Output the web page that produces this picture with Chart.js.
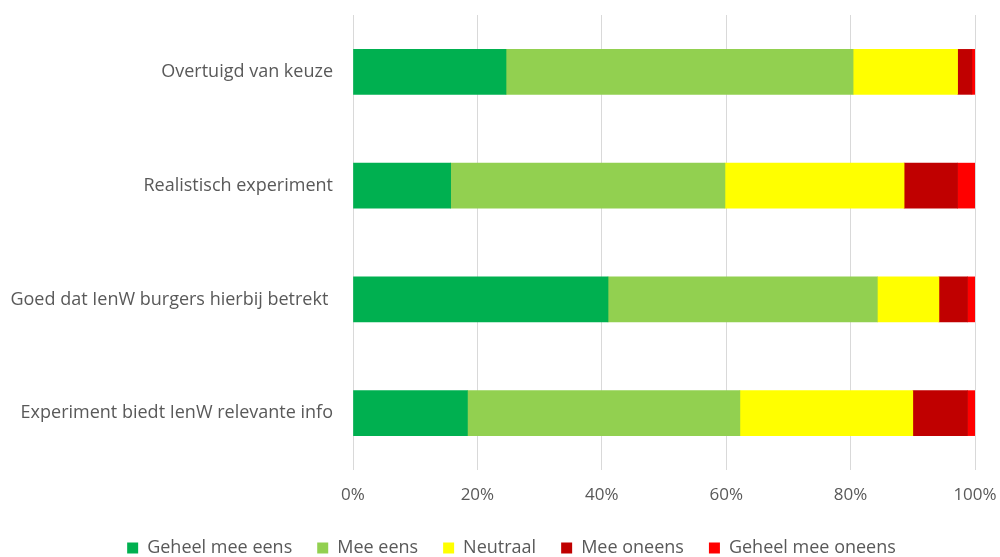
<!DOCTYPE html>
<html>
<head>
<meta charset="utf-8">
<script src="https://cdn.jsdelivr.net/npm/chart.js@4/dist/chart.umd.min.js"></script>
<style>
  html, body { margin: 0; padding: 0; background: #fff; }
  #wrap { width: 1000px; height: 557px; position: relative; }
</style>
</head>
<body>
<div id="wrap"><canvas id="chart"></canvas></div>
<script>
const categories = [
  "Overtuigd van keuze",
  "Realistisch experiment",
  "Goed dat IenW burgers hierbij betrekt ",
  "Experiment biedt IenW relevante info",
];

const seriesNames = ["Geheel mee eens", "Mee eens", "Neutraal", "Mee oneens", "Geheel mee oneens"];
const seriesColors = ["#00B050", "#92D050", "#FFFF00", "#C00000", "#FF0000"];

// percentages per category, in the order of categories
const geheelMeeEens = [24.6, 15.7, 41.0, 18.4];
const meeEens = [55.8, 44.1, 43.3, 43.8];
const neutraal = [16.8, 28.8, 9.9, 27.8];
const meeOneens = [2.3, 8.6, 4.6, 8.8];
const geheelMeeOneens = [0.5, 2.8, 1.2, 1.2];

const xTicks = [0, 20, 40, 60, 80, 100];

const seriesValues = [geheelMeeEens, meeEens, neutraal, meeOneens, geheelMeeOneens];
const TEXT = "#595959";
const FONT = "'Open Sans', 'Liberation Sans', sans-serif";

new Chart(document.getElementById("chart"), {
  type: "bar",
  data: {
    labels: categories,
    datasets: seriesNames.map((name, i) => ({
      label: name,
      data: seriesValues[i],
      backgroundColor: seriesColors[i],
      borderWidth: 0,
      barThickness: 45,
    })),
  },
  plugins: [
    {
      // the original legend sits a bit right of the page centre
      id: "legendShift",
      afterLayout: (chart) => {
        chart.legend.left += 24;
        chart.legend.right += 24;
      },
    },
  ],
  options: {
    indexAxis: "y",
    responsive: true,
    maintainAspectRatio: false,
    animation: false,
    // negative bottom padding pushes the legend down to where the original sits
    layout: { padding: { top: 15, right: 25, bottom: -10, left: 0 } },
    plugins: {
      tooltip: { enabled: false },
      legend: {
        position: "bottom",
        labels: {
          color: TEXT,
          font: { family: FONT, size: 18 },
          boxWidth: 11,
          boxHeight: 11,
          padding: 25,
        },
      },
    },
    scales: {
      x: {
        stacked: true,
        min: 0,
        max: 100,
        afterBuildTicks: (scale) => {
          scale.ticks = xTicks.map((v) => ({ value: v }));
        },
        afterFit: (scale) => {
          scale.height = 44;
          scale.paddingLeft = 0;
          scale.paddingRight = 0;
        },
        grid: { color: "#D9D9D9", drawTicks: false },
        border: { display: false },
        ticks: {
          color: TEXT,
          font: { family: FONT, size: 17 },
          padding: 15,
          callback: (v) => v + "%",
        },
      },
      y: {
        stacked: true,
        afterFit: (scale) => {
          scale.width = 353;
          scale.paddingTop = 0;
          scale.paddingBottom = 0;
        },
        grid: { display: false, drawTicks: false },
        border: { display: false },
        ticks: {
          color: TEXT,
          font: { family: FONT, size: 18 },
          padding: 20,
        },
      },
    },
  },
});
</script>
</body>
</html>
